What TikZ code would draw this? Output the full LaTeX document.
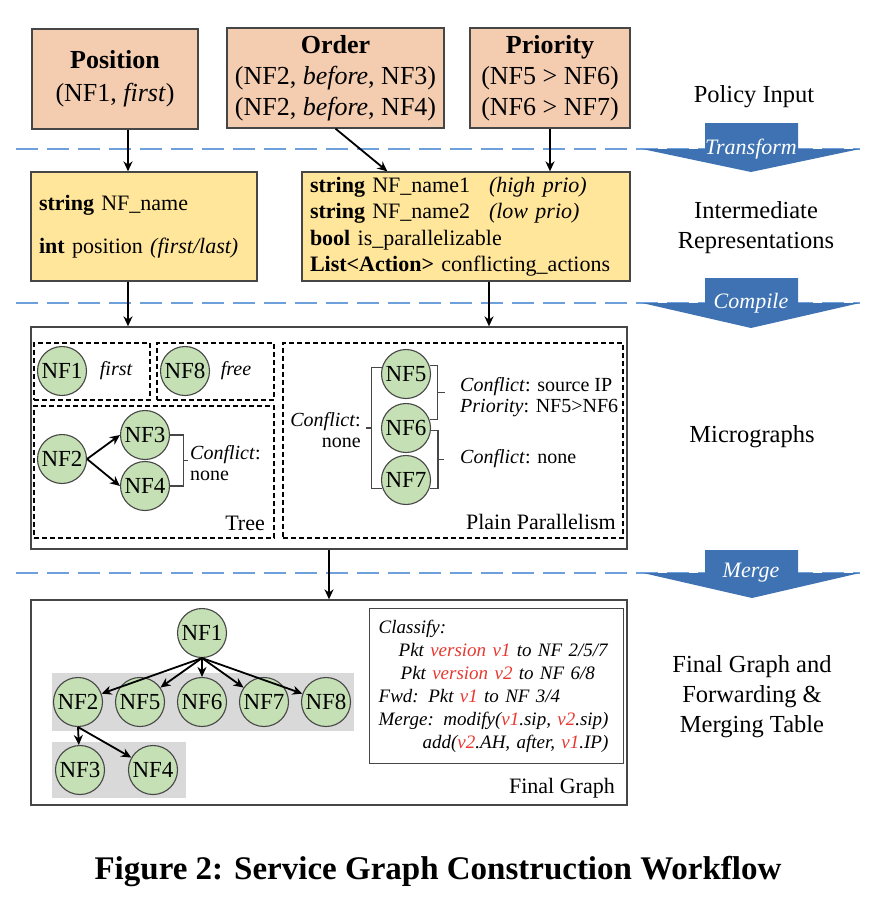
\documentclass[tikz,border=0pt]{standalone}
\usepackage{fontspec}
\setmainfont{Liberation Serif}
\usepackage{xcolor}
\usepackage{tikz}
\usetikzlibrary{arrows.meta, positioning, calc}
\definecolor{policyfill}{RGB}{244,204,176}
\definecolor{irfill}{RGB}{255,230,155}
\definecolor{nfgreen}{RGB}{197,224,180}
\definecolor{stageblue}{RGB}{62,114,178}
\definecolor{lineblue}{RGB}{110,160,220}
\definecolor{bandgray}{RGB}{217,217,217}
\definecolor{framegray}{RGB}{70,70,70}
\definecolor{tabred}{RGB}{232,56,48}
\tikzset{
    policy/.style={rectangle, draw=framegray, line width=1.3pt, fill=policyfill, minimum height=100pt, text centered, align=center, font=\fontsize{26}{31}\selectfont},
    irbox/.style={rectangle, draw=framegray, line width=1.3pt, fill=irfill, minimum height=109pt, align=left, inner xsep=8pt, font=\fontsize{22}{26.5}\selectfont},
    panel/.style={rectangle, draw=framegray, line width=1.3pt, inner sep=0pt},
    groupbox/.style={rectangle, draw, line width=1.1pt, dash pattern=on 5pt off 3pt, inner sep=0pt},
    band/.style={rectangle, fill=bandgray, inner sep=0pt},
    nf/.style={circle, draw=framegray, line width=1.1pt, fill=nfgreen, inner sep=0pt, minimum size=49pt, font=\fontsize{23}{24}\selectfont},
    annot/.style={font=\fontsize{20}{21}\selectfont, inner sep=0pt},
    panellabel/.style={font=\fontsize{22}{24}\selectfont, inner sep=0pt},
    stagelabel/.style={font=\fontsize{24.5}{30}\selectfont, align=center},
    stagearrow/.style={fill=stageblue},
    stagetext/.style={text=white, font=\fontsize{22}{24}\selectfont\itshape},
    sepline/.style={draw=lineblue, line width=2.4pt, dash pattern=on 22pt off 9pt},
    flow/.style={->, >={Stealth[length=10pt, width=9pt]}, line width=1.8pt},
    brace/.style={line width=1.1pt, draw=framegray}
}

\begin{document}
\begin{tikzpicture}[x=1pt, y=-1pt]
    \useasboundingbox (0,0) rectangle (876,902);

    % Stage separators
    \draw[sepline] (16,149) -- (860,149);
    \draw[sepline] (16,303) -- (860,303);
    \draw[sepline] (16,573) -- (860,573);

    \fill[stagearrow] (705,123) -- (798,123) -- (798,149) -- (860,149) -- (751,172) -- (642,149) -- (705,149) -- cycle;
    \fill[stagearrow] (705,278) -- (798,278) -- (798,303) -- (860,303) -- (751,328) -- (642,303) -- (705,303) -- cycle;
    \fill[stagearrow] (705,550) -- (798,550) -- (798,573) -- (860,573) -- (752,598) -- (643,573) -- (705,573) -- cycle;
    \node[stagetext] (transform) at (751,149) {Transform};
    \node[stagetext] (compile) at (751,303) {Compile};
    \node[stagetext] (merge) at (751,573) {Merge};

    % Stage labels
    \node[stagelabel] (inputlbl) at (754,97) {Policy Input};
    \node[stagelabel] (irlbl) at (756,228) {Intermediate\\Representations};
    \node[stagelabel] (microlbl) at (752,437) {Micrographs};
    \node[stagelabel] (finallbl) at (752,697) {Final Graph and\\Forwarding \&\\Merging Table};

    % Policy Input Layer
    \node[policy, minimum width=166pt] (pos) at (115,79) {%
        \textbf{Position}\\[2pt]
        (NF1, \textit{first})%
    };
    \node[policy, minimum width=217pt] (order) at (335.5,78) {%
        \textbf{Order}\\ %
        (NF2, \textit{before}, NF3)\\ %
        (NF2, \textit{before}, NF4)%
    };
    \node[policy, minimum width=160pt] (prio) at (550,78) {%
        \textbf{Priority}\\ %
        (NF5 > NF6)\\ %
        (NF6 > NF7)%
    };

    % Intermediate Representation Layer
    \node[irbox, text width=210pt] (ir1) at (144,226.5) {%
        \textbf{string} NF\_name\\[16pt]
        \textbf{int} position \textit{(first/last)}%
    };
    \node[irbox, text width=312pt, inner xsep=8pt] (ir2) at (466,226.5) {%
        \makebox[179pt][l]{\textbf{string} NF\_name1}\textit{(high prio)}\\
        \makebox[179pt][l]{\textbf{string} NF\_name2}\textit{(low prio)}\\
        \textbf{bool} is\_parallelizable\\
        \textbf{List<Action>} conflicting\_actions%
    };

    % Micrograph Layer
    \node[panel, minimum width=596pt, minimum height=222pt] (micro) at (329,438) {};
    \node[groupbox, minimum width=116pt, minimum height=57pt] (firstgrp) at (92,371.5) {};
    \node[groupbox, minimum width=117pt, minimum height=57pt] (freegrp) at (215.5,371.5) {};
    \node[groupbox, minimum width=240pt, minimum height=132pt] (treegrp) at (154,472) {};
    \node[groupbox, minimum width=340pt, minimum height=195pt] (pargrp) at (453,440.5) {};

    \node[nf] (m1) at (62,371) {NF1};
    \node[annot, font=\fontsize{20}{21}\selectfont\itshape] (m1note) at (116,371) {first};
    \node[nf] (m8) at (185,371) {NF8};
    \node[annot, font=\fontsize{20}{21}\selectfont\itshape] (m8note) at (236,371) {free};

    \node[nf] (m2) at (62,459) {NF2};
    \node[nf] (m3) at (145,435) {NF3};
    \node[nf] (m4) at (145,486) {NF4};
    \draw[flow] (m2.east) -- (m3.west);
    \draw[flow] (m2.east) -- (m4.west);
    \draw[brace] (m3.east) -- ++(13,0) |- (m4.east);
    \draw[brace] ($(m3.east)!0.5!(m4.east)+(13,0)$) -- ++(5,0);
    \node[annot, anchor=west, align=left] (treenote) at (190,463) {\textit{Conflict}:\\none};
    \node[panellabel, anchor=east] (treelbl) at (265,523) {Tree};

    \node[nf] (m5) at (406,374) {NF5};
    \node[nf] (m6) at (406,428) {NF6};
    \node[nf] (m7) at (406,480) {NF7};
    \draw[brace] (m5.166) -- ++(-10,0) |- (m7.200);
    \draw[brace] ([xshift=-9pt]m6.west) -- ++(-6,0);
    \draw[brace] (m5.20) -- ++(8,0) |- (m6.20);
    \draw[brace] ($(m5.20)!0.5!(m6.20)+(8,0)$) -- ++(7,0);
    \draw[brace] (m6.-5) -- ++(7,0) |- (m7.-19);
    \draw[brace] ($(m6.-5)!0.5!(m7.-19)+(7,0)$) -- ++(7,0);
    \node[annot, anchor=east, align=right] (parnote) at (361,430) {\textit{Conflict}:\\none};
    \node[annot, anchor=west, align=left] (prionote) at (460,397) {\textit{Conflict}: source IP\\\textit{Priority}: NF5>NF6};
    \node[annot, anchor=west] (nonenote) at (460,459) {\textit{Conflict}: none};
    \node[panellabel, anchor=east] (parlbl) at (616,522) {Plain Parallelism};

    % Final Graph Layer
    \node[panel, minimum width=596pt, minimum height=205pt] (final) at (329,702.5) {};
    \node[band, minimum width=302pt, minimum height=58pt] (row2band) at (203,702) {};
    \node[band, minimum width=134pt, minimum height=56pt] (row3band) at (119,770) {};

    \node[nf] (f1) at (202,633) {NF1};
    \node[nf] (f2) at (78,702) {NF2};
    \node[nf] (f5) at (140,702) {NF5};
    \node[nf] (f6) at (202,702) {NF6};
    \node[nf] (f7) at (264,702) {NF7};
    \node[nf] (f8) at (326,702) {NF8};
    \node[nf] (f3) at (80,770) {NF3};
    \node[nf] (f4) at (153,770) {NF4};

    \node[panel, anchor=north west, text width=236pt, inner xsep=9pt, minimum height=155pt, align=left, font=\fontsize{19}{23}\selectfont\itshape] (rules) at (369,608) {%
        Classify:\\
        \hspace*{20pt}Pkt \textcolor{tabred}{version v1} to NF 2/5/7\\
        \hspace*{22pt}Pkt \textcolor{tabred}{version v2} to NF 6/8\\
        Fwd: Pkt \textcolor{tabred}{v1} to NF 3/4\\
        Merge: modify(\textcolor{tabred}{v1}.sip, \textcolor{tabred}{v2}.sip)\\
        \hspace*{44pt}add(\textcolor{tabred}{v2}.AH, after, \textcolor{tabred}{v1}.IP)%
    };
    \node[panellabel, anchor=east] (finallbl2) at (615,788) {Final Graph};

    % Layer Connections
    \draw[flow] ([xshift=13pt]pos.south) -- ([xshift=13pt]pos.south |- ir1.north);
    \draw[flow] (order.south) -- ([xshift=86pt]ir2.north west);
    \draw[flow] (prio.south) -- (prio.south |- ir2.north);
    \draw[flow] ([xshift=-16pt]ir1.south) -- ([xshift=-16pt]ir1.south |- micro.north);
    \draw[flow] ([xshift=23pt]ir2.south) -- ([xshift=23pt]ir2.south |- micro.north);
    \draw[flow] (micro.south) -- (final.north);

    % Final Graph Edges
    \draw[flow] (f1.south) -- (f2);
    \draw[flow] (f1.south) -- (f5);
    \draw[flow] (f1.south) -- (f6);
    \draw[flow] (f1.south) -- (f7);
    \draw[flow] (f1.south) -- (f8);
    \draw[flow] (f2.south) -- (f3);
    \draw[flow] (f2.south) -- (f4);

    % Caption
    \node[font=\fontsize{33}{36}\selectfont\bfseries] (caption) at (438,872) {Figure 2: Service Graph Construction Workflow};
\end{tikzpicture}
\end{document}
